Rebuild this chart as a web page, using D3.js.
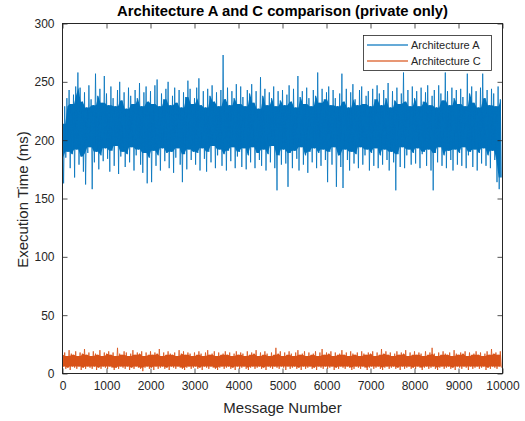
<!DOCTYPE html>
<html>
<head>
<meta charset="utf-8">
<script src="https://cdn.jsdelivr.net/npm/d3@7"></script>
<style>
  body { margin: 0; background: #fff; }
  text { font-family: "Liberation Sans", Arial, sans-serif; }
</style>
</head>
<body>
<script>
// Values: each series is kept as its local peaks and
// troughs, one peak every 50 messages and one trough 25 messages after it.
const archA_peaks = [
  214, 229, 236, 243, 231, 239, 246, 258, 245, 233, 241, 228, 247, 235, 230, 257, 238, 244, 232, 255,
  240, 230, 246, 236, 229, 243, 250, 234, 241, 227, 245, 238, 231, 243, 236, 249, 229, 241, 246, 233,
  242, 231, 247, 252, 229, 240, 235, 244, 250, 230, 238, 245, 232, 243, 228, 241, 237, 251, 244, 231,
  236, 245, 253, 230, 242, 228, 244, 238, 247, 233, 241, 229, 243, 273, 235, 245, 230, 242, 236, 248,
  231, 246, 237, 229, 243, 240, 248, 232, 242, 227, 254, 238, 244, 230, 241, 236, 246, 229, 242, 234,
  243, 230, 239, 247, 233, 244, 228, 255, 237, 242, 231, 245, 236, 229, 243, 238, 258, 232, 244, 235,
  241, 246, 230, 243, 236, 229, 240, 257, 233, 244, 228, 241, 248, 235, 230, 243, 246, 231, 238, 242,
  229, 244, 235, 247, 240, 230, 243, 236, 249, 228, 242, 234, 245, 231, 240, 258, 233, 243, 229, 246,
  236, 242, 229, 245, 233, 241, 247, 230, 238, 243, 228, 247, 240, 234, 258, 242, 230, 245, 236, 243,
  231, 244, 237, 229, 257, 240, 246, 232, 242, 228, 245, 257, 236, 243, 230, 244, 240, 229, 246, 235
];
const archA_troughs = [
  163, 185, 190, 176, 188, 168, 192, 179, 186, 173, 162, 189, 194, 158, 181, 190, 175, 187, 182, 193,
  184, 173, 191, 178, 195, 171, 186, 190, 177, 188, 181, 194, 174, 187, 192, 179, 172, 189, 163, 185,
  164, 191, 178, 187, 174, 193, 182, 189, 176, 190, 172, 185, 193, 179, 164, 188, 175, 192, 183, 190,
  179, 189, 174, 193, 184, 173, 190, 181, 195, 176, 187, 192, 178, 188, 174, 191, 182, 194, 176, 186,
  190, 177, 193, 175, 187, 181, 194, 176, 189, 183, 178, 192, 174, 188, 181, 195, 176, 157, 187, 179,
  192, 180, 160, 189, 176, 191, 184, 174, 194, 179, 187, 172, 190, 181, 193, 176, 189, 178, 192, 183,
  164, 190, 179, 194, 160, 187, 177, 159, 192, 183, 174, 190, 180, 188, 176, 194, 179, 187, 192, 174,
  189, 178, 193, 176, 187, 179, 192, 183, 174, 190, 181, 157, 188, 177, 194, 176, 187, 192, 179, 189,
  180, 193, 176, 188, 190, 178, 192, 174, 157, 189, 181, 194, 178, 187, 176, 191, 183, 174, 192, 179,
  189, 178, 194, 176, 187, 190, 177, 192, 174, 189, 180, 193, 178, 187, 176, 191, 183, 164, 158, 168
];
const archC_peaks = [
  16, 18, 15, 20, 17, 16, 19, 15, 18, 17, 21, 16, 18, 15, 19, 17, 16, 20, 15, 18,
  17, 19, 16, 18, 15, 22, 17, 16, 19, 18, 15, 17, 20, 16, 18, 17, 19, 15, 18, 16,
  19, 16, 18, 17, 21, 15, 18, 16, 19, 17, 16, 18, 15, 20, 17, 19, 16, 18, 17, 15,
  18, 16, 19, 17, 15, 18, 20, 16, 17, 19, 15, 18, 16, 17, 19, 16, 18, 15, 17, 19,
  16, 18, 17, 15, 19, 16, 18, 17, 20, 15, 18, 16, 19, 17, 15, 18, 16, 22, 17, 19,
  15, 18, 16, 19, 17, 15, 18, 20, 16, 17, 19, 15, 18, 16, 17, 19, 15, 18, 21, 16,
  18, 17, 19, 15, 18, 16, 17, 20, 16, 18, 15, 19, 17, 16, 18, 15, 19, 17, 16, 18,
  17, 19, 15, 18, 16, 21, 17, 19, 16, 18, 15, 17, 19, 16, 18, 17, 20, 15, 18, 16,
  19, 16, 18, 17, 15, 19, 16, 18, 22, 17, 15, 18, 16, 19, 17, 16, 18, 15, 20, 17,
  16, 18, 17, 19, 15, 18, 16, 17, 19, 16, 18, 15, 17, 19, 16, 21, 17, 18, 16, 19
];
const archC_troughs = [
  6, 4, 5, 3, 6, 5, 4, 6, 3, 5, 4, 6, 5, 4, 6, 3, 5, 4, 6, 5,
  4, 6, 5, 3, 5, 4, 6, 5, 4, 6, 3, 5, 4, 6, 5, 4, 2, 5, 6, 4,
  5, 3, 6, 4, 5, 6, 4, 5, 3, 6, 5, 4, 6, 5, 4, 3, 5, 6, 4, 5,
  6, 4, 5, 3, 6, 5, 4, 6, 5, 4, 3, 5, 6, 4, 5, 6, 4, 5, 3, 6,
  4, 5, 6, 4, 3, 5, 6, 4, 5, 6, 4, 5, 3, 6, 5, 4, 6, 5, 4, 6,
  5, 3, 6, 4, 5, 6, 4, 5, 3, 6, 4, 5, 6, 4, 5, 3, 6, 5, 4, 6,
  4, 5, 6, 3, 5, 4, 6, 5, 4, 6, 5, 3, 4, 6, 5, 4, 6, 5, 3, 5,
  6, 4, 5, 6, 4, 3, 5, 6, 4, 5, 6, 4, 5, 3, 6, 4, 5, 6, 4, 5,
  4, 6, 5, 3, 5, 6, 4, 5, 6, 4, 3, 5, 6, 4, 5, 6, 4, 5, 3, 6,
  5, 4, 6, 5, 3, 6, 4, 5, 6, 4, 5, 6, 3, 5, 4, 6, 5, 4, 6, 5
];
const seriesNames = ["Architecture A", "Architecture C"];
const xTicks = [0, 1000, 2000, 3000, 4000, 5000, 6000, 7000, 8000, 9000, 10000];
const yTicks = [0, 50, 100, 150, 200, 250, 300];
const step = 50;

const width = 525, height = 421;
const colors = ["#0072BD", "#D95319"];
const axisColor = "#262626";

const svg = d3.select("body").append("svg")
  .attr("width", width)
  .attr("height", height);

const x = d3.scaleLinear().domain([0, 10000]).range([62.5, 502.5]);
const y = d3.scaleLinear().domain([0, 300]).range([373.5, 23.5]);

// peaks and troughs back into one sequence of [message, value]
function toPoints(peaks, troughs) {
  const pts = [];
  peaks.forEach((p, i) => {
    pts.push([i * step, p]);
    pts.push([i * step + step / 2, troughs[i]]);
  });
  return pts;
}
// where the many overlapping thin segments paint solid: lowest nearby peak
// down to highest nearby trough
function toCore(peaks, troughs) {
  return peaks.map((p, i) => {
    const a = Math.max(0, i - 1), b = Math.min(peaks.length, i + 2);
    return [i * step + step / 4, d3.min(peaks.slice(a, b)), d3.max(troughs.slice(a, b))];
  });
}
const series = [
  { pts: toPoints(archA_peaks, archA_troughs), core: toCore(archA_peaks, archA_troughs) },
  { pts: toPoints(archC_peaks, archC_troughs), core: toCore(archC_peaks, archC_troughs) }
];

svg.append("clipPath").attr("id", "plot")
  .append("rect")
  .attr("x", x(0)).attr("y", y(300))
  .attr("width", x(10000) - x(0)).attr("height", y(0) - y(300));

const line = d3.line().x(d => x(d[0])).y(d => y(d[1]));
const area = d3.area().x(d => x(d[0])).y0(d => y(d[2])).y1(d => y(d[1]));

const plot = svg.append("g").attr("clip-path", "url(#plot)");
const sg = plot.selectAll("g")
  .data(series)
  .join("g");
sg.append("path")
  .attr("d", d => area(d.core))
  .attr("fill", (d, i) => colors[i]);
sg.append("path")
  .attr("d", d => line(d.pts))
  .attr("fill", "none")
  .attr("stroke", (d, i) => colors[i])
  .attr("stroke-width", 0.8);

// axes, ticks pointing inwards as in MATLAB
function styleAxis(g) {
  g.select(".domain").remove();
  g.selectAll("line").attr("stroke", axisColor).attr("stroke-width", 0.8);
  g.selectAll("text").attr("fill", axisColor).style("font-size", "12px")
    .style("font-family", "'Liberation Sans', Arial, sans-serif");
}

svg.append("g").attr("transform", `translate(0,${y(0)})`)
  .call(d3.axisBottom(x).tickValues(xTicks).tickFormat(d3.format("d")).tickSizeInner(-5).tickSizeOuter(0).tickPadding(8))
  .call(styleAxis);
svg.append("g").attr("transform", `translate(0,${y(300)})`)
  .call(d3.axisTop(x).tickValues(xTicks).tickFormat("").tickSizeInner(-5).tickSizeOuter(0))
  .call(styleAxis);
svg.append("g").attr("transform", `translate(${x(0)},0)`)
  .call(d3.axisLeft(y).tickValues(yTicks).tickSizeInner(-5).tickSizeOuter(0).tickPadding(8))
  .call(styleAxis);
svg.append("g").attr("transform", `translate(${x(10000)},0)`)
  .call(d3.axisRight(y).tickValues(yTicks).tickFormat("").tickSizeInner(-5).tickSizeOuter(0))
  .call(styleAxis);

svg.append("rect")
  .attr("x", x(0)).attr("y", y(300))
  .attr("width", x(10000) - x(0)).attr("height", y(0) - y(300))
  .attr("fill", "none").attr("stroke", axisColor).attr("stroke-width", 1);

// titles
svg.append("text")
  .attr("x", (x(0) + x(10000)) / 2).attr("y", 16)
  .attr("text-anchor", "middle")
  .style("font-size", "14.8px").style("font-weight", "bold")
  .text("Architecture A and C comparison (private only)");

svg.append("text")
  .attr("x", (x(0) + x(10000)) / 2).attr("y", 413)
  .attr("text-anchor", "middle").attr("fill", axisColor)
  .style("font-size", "15px")
  .text("Message Number");

svg.append("text")
  .attr("transform", "translate(28,199.5) rotate(-90)")
  .attr("text-anchor", "middle").attr("fill", axisColor)
  .style("font-size", "15px")
  .text("Execution Time (ms)");

// legend
const legend = svg.append("g").attr("transform", "translate(363,35)");
legend.append("rect")
  .attr("x", 0.5).attr("y", 0.5).attr("width", 128).attr("height", 35)
  .attr("fill", "#fff").attr("stroke", axisColor).attr("stroke-width", 0.8);
seriesNames.forEach((name, i) => {
  const item = legend.append("g").attr("transform", `translate(0,${10 + i * 16})`);
  item.append("rect")
    .attr("x", 4).attr("y", -0.6).attr("width", 41).attr("height", 1.2)
    .attr("fill", colors[i]);
  item.append("text")
    .attr("x", 48).attr("dy", "0.35em")
    .attr("fill", axisColor).style("font-size", "11px")
    .text(name);
});
</script>
</body>
</html>
